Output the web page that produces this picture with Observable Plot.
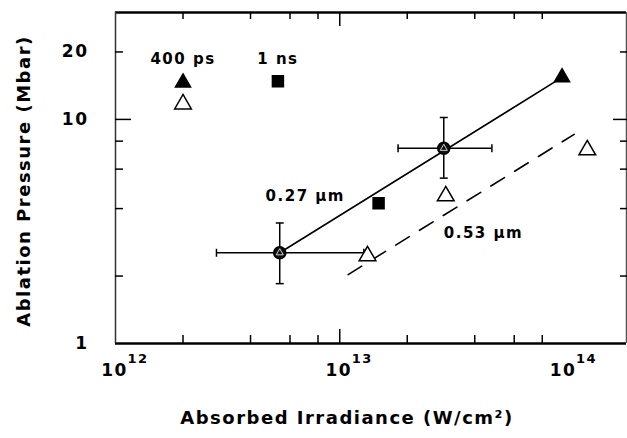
<!DOCTYPE html>
<html>
<head>
<meta charset="utf-8">
<script src="https://cdn.jsdelivr.net/npm/d3@7"></script>
<script src="https://cdn.jsdelivr.net/npm/@observablehq/plot@0.6"></script>
<style>
  body { margin: 0; background: #fff; }
  svg { display: block; }
  svg text { letter-spacing: 1.5px; }
</style>
</head>
<body>
<div id="chart"></div>
<script>
// Axis ticks
const xDecades = [1e12, 1e13, 1e14];
const xExponents = ["12", "13", "14"];
const xMinorTicks = [2e12, 4e12, 6e12, 8e12, 2e13, 4e13, 6e13, 8e13];
const yLabelTicks = [1, 10, 20];
const yMinorTicks = [2, 4, 6, 8, 20];
const yMajorTicks = [10];

// 0.27 µm, 400 ps (filled triangles)
const uv400Irr = [9.8e13];
const uv400Pres = [15.4];
// 0.53 µm, 400 ps (open triangles)
const green400Irr = [1.33e13, 2.97e13, 1.27e14];
const green400Pres = [2.46, 4.55, 7.3];
// 0.27 µm, 1 ns (filled squares)
const uv1nsIrr = [1.49e13];
const uv1nsPres = [4.23];
// averaged points with error bars
const errIrr = [5.4e12, 2.91e13];
const errPres = [2.54, 7.43];
const errIrrLo = [2.82e12, 1.82e13];
const errIrrHi = [1.28e13, 4.77e13];
const errPresLo = [1.85, 5.47];
const errPresHi = [3.45, 10.2];

// scaling fits
const fitUvIrr = [5.4e12, 9.8e13];
const fitUvPres = [2.54, 15.4];
const fitGreenIrr = [1.09e13, 1.11e14];
const fitGreenPres = [2.03, 8.58];

// key
const keyLabels = ["400 ps", "1 ns"];
const keyLabelIrr = [2e12, 5.3e12];
const keyLabelPres = [18.6, 18.6];
const keyFilledTriangle = {irr: 2e12, pres: 14.6};
const keyOpenTriangle = {irr: 2e12, pres: 11.7};
const keySquare = {irr: 5.3e12, pres: 14.8};

// wavelength labels
const waveLabels = ["0.27 \u03bcm", "0.53 \u03bcm"];
const waveIrr = [4.67e12, 2.91e13];
const wavePres = [4.55, 3.11];

const zip = (xs, ys) => xs.map((x, i) => ({x, y: ys[i]}));

const errRows = errIrr.map((x, i) => ({
  x, y: errPres[i], x1: errIrrLo[i], x2: errIrrHi[i], y1: errPresLo[i], y2: errPresHi[i]
}));

// cap symbols for the error bars
const capH = {draw(ctx, size) { const w = Math.sqrt(size); ctx.moveTo(-w / 2, 0); ctx.lineTo(w / 2, 0); }};
const capV = {draw(ctx, size) { const w = Math.sqrt(size); ctx.moveTo(0, -w / 2); ctx.lineTo(0, w / 2); }};

const font = "DejaVu Sans";

const chart = Plot.plot({
  width: 627,
  height: 438,
  marginLeft: 115,
  marginRight: 1,
  marginTop: 12,
  marginBottom: 95,
  style: {fontFamily: font, fontWeight: "bold", color: "#000", background: "#fff"},
  x: {type: "log", domain: [1e12, 1.9e14]},
  y: {type: "log", domain: [1, 30]},
  marks: [
    // frame
    Plot.ruleY([1], {strokeWidth: 2.5}),
    Plot.ruleY([30], {strokeWidth: 2.5}),
    Plot.ruleX([1e12], {strokeWidth: 1.5, stroke: "#333"}),
    Plot.ruleX([1.9e14], {strokeWidth: 1.5, stroke: "#555"}),

    // inward ticks
    Plot.axisX(xMinorTicks, {anchor: "bottom", tickSize: -8, strokeWidth: 1.5, tickFormat: () => "", label: null}),
    Plot.axisX([1e13], {anchor: "bottom", tickSize: -14, strokeWidth: 1.5, tickFormat: () => "", label: null}),
    Plot.axisX(xMinorTicks, {anchor: "top", tickSize: -6, strokeWidth: 1.5, tickFormat: () => "", label: null}),
    Plot.axisX([1e13], {anchor: "top", tickSize: -13, strokeWidth: 1.5, tickFormat: () => "", label: null}),
    Plot.axisY(yMinorTicks, {anchor: "left", tickSize: -8, strokeWidth: 1.5, tickFormat: () => "", label: null}),
    Plot.axisY(yMajorTicks, {anchor: "left", tickSize: -16, strokeWidth: 1.5, tickFormat: () => "", label: null}),
    Plot.axisY(yMinorTicks, {anchor: "right", tickSize: -7, strokeWidth: 1.5, tickFormat: () => "", label: null}),
    Plot.axisY(yMajorTicks, {anchor: "right", tickSize: -14, strokeWidth: 1.5, tickFormat: () => "", label: null}),

    // tick labels
    Plot.axisY(yLabelTicks, {anchor: "left", tickSize: 0, tickPadding: 27, fontSize: 17, fontWeight: "bold", tickFormat: d => String(d), label: null}),
    Plot.axisX(xDecades, {anchor: "bottom", tickSize: 0, tickPadding: 20, fontSize: 17, fontWeight: "bold", dx: -1, tickFormat: () => "10", label: null}),
    Plot.axisX(xDecades, {anchor: "bottom", tickSize: 0, tickPadding: 10, fontSize: 13, fontWeight: "bold", dx: 12, textAnchor: "start", tickFormat: d => xExponents[xDecades.indexOf(d)], label: null}),

    // axis titles
    Plot.text(["Absorbed Irradiance (W/cm\u00b2)"], {frameAnchor: "bottom", textAnchor: "middle", dx: -24, dy: 80, fontSize: 18, fontWeight: "bold", fontFamily: font}),
    Plot.text(["Ablation Pressure (Mbar)"], {frameAnchor: "left", textAnchor: "middle", rotate: -90, dx: -91, dy: 3, fontSize: 18, fontWeight: "bold", fontFamily: font}),

    // scaling fits
    Plot.line(zip(fitUvIrr, fitUvPres), {x: "x", y: "y", stroke: "#000", strokeWidth: 1.6}),
    Plot.line(zip(fitGreenIrr, fitGreenPres), {x: "x", y: "y", stroke: "#000", strokeWidth: 1.6, strokeDasharray: "16,12"}),

    // error bars
    Plot.ruleX(errRows, {x: "x", y1: "y1", y2: "y2", strokeWidth: 1.5}),
    Plot.ruleY(errRows, {y: "y", x1: "x1", x2: "x2", strokeWidth: 1.5}),
    Plot.dot(errRows, {x: "x", y: "y1", symbol: capH, r: 4.5, stroke: "#000", strokeWidth: 1.5}),
    Plot.dot(errRows, {x: "x", y: "y2", symbol: capH, r: 4.5, stroke: "#000", strokeWidth: 1.5}),
    Plot.dot(errRows, {x: "x1", y: "y", symbol: capV, r: 4.5, stroke: "#000", strokeWidth: 1.5}),
    Plot.dot(errRows, {x: "x2", y: "y", symbol: capV, r: 4.5, stroke: "#000", strokeWidth: 1.5}),
    Plot.dot(errRows, {x: "x", y: "y", r: 6, fill: "#111", stroke: "#000"}),
    Plot.dot(errRows, {x: "x", y: "y", symbol: "triangle", r: 2.6, stroke: "#fff", strokeWidth: 0.8}),

    // data points
    Plot.dot(zip(uv400Irr, uv400Pres), {x: "x", y: "y", symbol: "triangle", r: 5.6, fill: "#000", stroke: "#000"}),
    Plot.dot(zip(green400Irr, green400Pres), {x: "x", y: "y", symbol: "triangle", r: 6.2, fill: "#fff", stroke: "#000", strokeWidth: 1.5}),
    Plot.dot(zip(uv1nsIrr, uv1nsPres), {x: "x", y: "y", symbol: "square", r: 6.2, fill: "#000", stroke: "#000"}),

    // key
    Plot.text(keyLabels, {x: (d, i) => keyLabelIrr[i], y: (d, i) => keyLabelPres[i], text: d => d, fontSize: 15, fontWeight: "bold", fontFamily: font}),
    Plot.dot([keyFilledTriangle], {x: "irr", y: "pres", symbol: "triangle", r: 5.6, fill: "#000", stroke: "#000"}),
    Plot.dot([keyOpenTriangle], {x: "irr", y: "pres", symbol: "triangle", r: 6.2, fill: "#fff", stroke: "#000", strokeWidth: 1.5}),
    Plot.dot([keySquare], {x: "irr", y: "pres", symbol: "square", r: 6.2, fill: "#000", stroke: "#000"}),

    // wavelength labels
    Plot.text(waveLabels, {x: (d, i) => waveIrr[i], y: (d, i) => wavePres[i], text: d => d, textAnchor: "start", fontSize: 15, fontWeight: "bold", fontFamily: font})
  ]
});

document.getElementById("chart").appendChild(chart);
</script>
</body>
</html>
